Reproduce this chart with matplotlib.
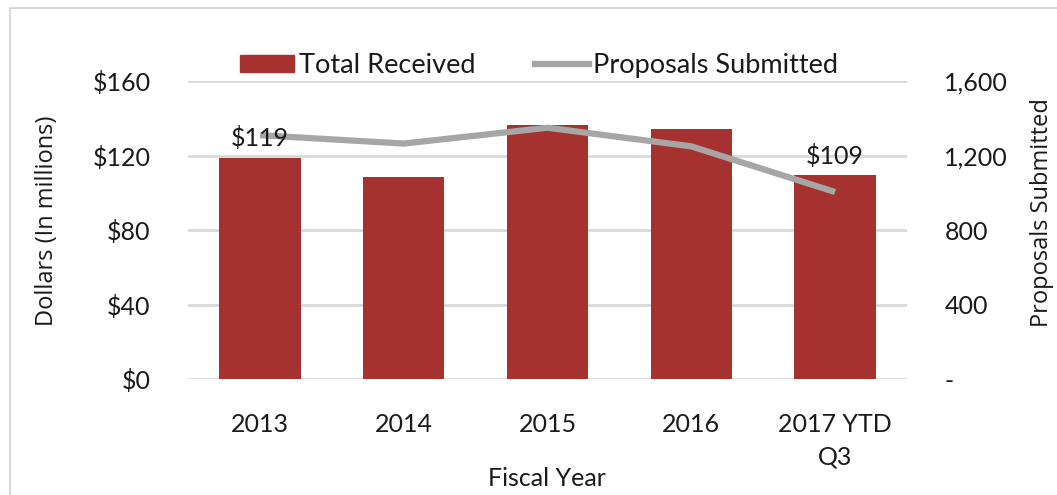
import matplotlib.pyplot as plt
from matplotlib.patches import Rectangle, Patch
from matplotlib.lines import Line2D

# Data
years = ["2013", "2014", "2015", "2016", "2017 YTD\nQ3"]
total_received = [119, 108.6, 136.4, 134.2, 109.5]   # $ millions
proposals = [1310, 1265, 1350, 1250, 1005]
label_idx = [0, 4]
label_text = ["$119", "$109"]

bar_color = "#A5322F"
line_color = "#A6A6A6"
grid_color = "#D9D9D9"
txt_color = "#1A1A1A"

plt.rcParams['font.family'] = ['Lato', 'DejaVu Sans']

fig = plt.figure(figsize=(10.57, 4.95), dpi=100)
ax = fig.add_axes([0.178, 0.234, 0.680, 0.602])
ax2 = ax.twinx()

x = list(range(len(years)))
ax.bar(x, total_received, width=0.565, color=bar_color, zorder=2)
ax2.plot(x, proposals, color=line_color, lw=4.5, solid_capstyle="butt", zorder=3)

ax.set_xlim(-0.5, 4.5)
ax.set_ylim(0, 160)
ax2.set_ylim(0, 1600)
ax.set_yticks([0, 40, 80, 120, 160])
ax.set_yticklabels(["$0", "$40", "$80", "$120", "$160"])
ax2.set_yticks([0, 400, 800, 1200, 1600])
ax2.set_yticklabels(["-", "400", "800", "1,200", "1,600"])
ax.set_xticks(x)
ax.set_xticklabels(years, linespacing=1.5)

for a in (ax, ax2):
    for s in a.spines.values():
        s.set_visible(False)
    a.tick_params(length=0, labelsize=18, colors=txt_color)
ax.tick_params(axis="y", pad=27)
ax2.tick_params(axis="y", pad=27)
ax.tick_params(axis="x", pad=24)

ax.set_axisbelow(True)
ax.yaxis.grid(True, color=grid_color, lw=2)
ax2.patch.set_visible(False)

# value labels sit on top of the line
for i, t in zip(label_idx, label_text):
    ax2.text(i, total_received[i] * 10 + 40, t, ha="center", va="bottom",
             fontsize=18, color=txt_color, zorder=5)

fig.text(0.044, 0.553, "Dollars (In millions)", rotation=90, ha="center", va="center",
         fontsize=17, family="Open Sans", color=txt_color)
fig.text(0.986, 0.57, "Proposals Submitted", rotation=90, ha="center", va="center",
         fontsize=17, family="Open Sans", color=txt_color)
fig.text(0.517, 0.034, "Fiscal Year", ha="center", va="center", fontsize=18, color=txt_color)

handles = [Patch(color=bar_color), Line2D([0], [0], color=line_color, lw=4.5)]
fig.legend(handles, ["Total Received", "Proposals Submitted"], loc="center",
           bbox_to_anchor=(0.51, 0.868), ncol=2, frameon=False, fontsize=19.5,
           handlelength=2.0, handleheight=0.6, handletextpad=0.15, columnspacing=2.2,
           labelcolor=txt_color)

fig.patches.append(Rectangle((0.009, -0.01), 0.995, 0.994, transform=fig.transFigure,
                             fill=False, edgecolor="#D0D0D0", lw=1.2))

fig.savefig("out.png", dpi=100)
